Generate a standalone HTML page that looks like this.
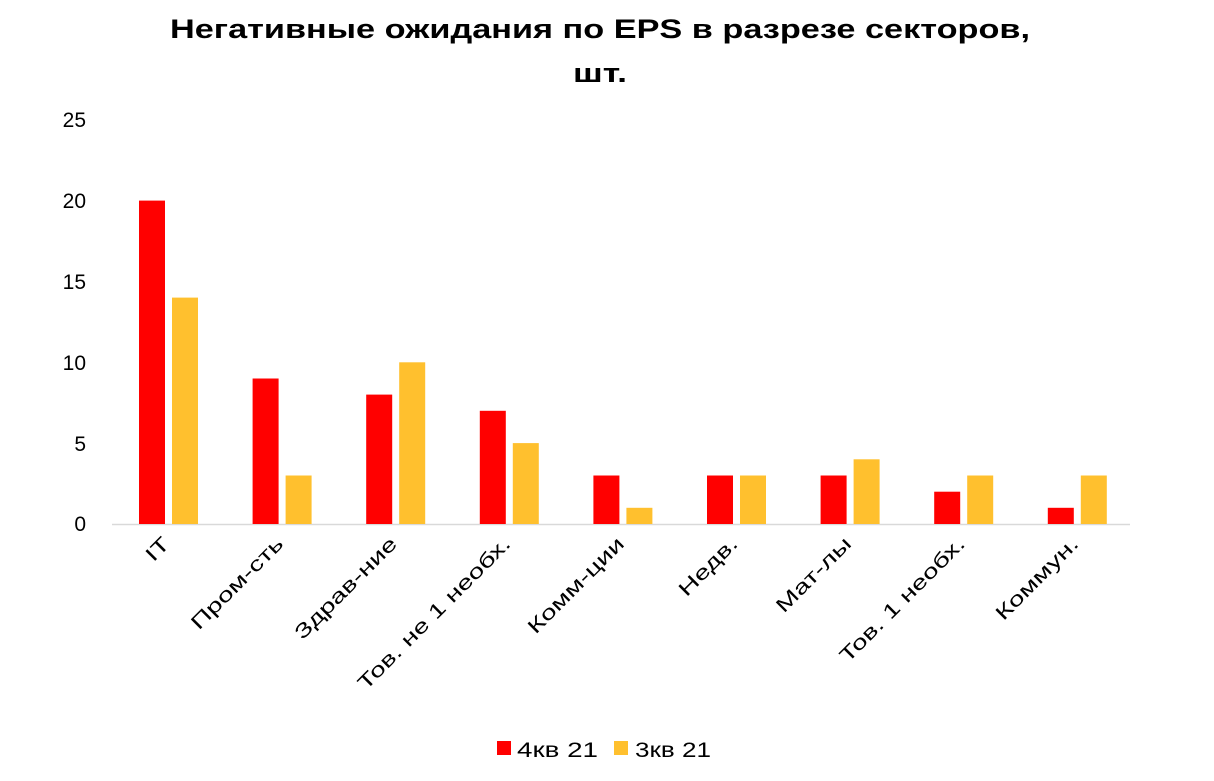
<!DOCTYPE html>
<html><head><meta charset="utf-8"><style>
body{margin:0;background:#fff;}
svg text{font-family:"Liberation Sans",sans-serif;fill:#000;}
</style></head><body>
<svg width="1214" height="776" xmlns="http://www.w3.org/2000/svg">
<text x="170" y="38" font-size="27" font-weight="bold" textLength="860" lengthAdjust="spacingAndGlyphs">Негативные ожидания по EPS в разрезе секторов,</text>
<text x="573" y="82" font-size="27" font-weight="bold" textLength="54" lengthAdjust="spacingAndGlyphs">шт.</text>
<g font-size="21" text-anchor="end">
<text x="86" y="531">0</text>
<text x="86" y="451">5</text>
<text x="86" y="370">10</text>
<text x="86" y="289">15</text>
<text x="86" y="208">20</text>
<text x="86" y="127">25</text>
</g>
<line x1="112" y1="524.5" x2="1130" y2="524.5" stroke="#d9d9d9" stroke-width="1.5"/>
<g fill="#ff0000">
<rect x="139" y="200.6" width="26" height="323.4"/>
<rect x="252.6" y="378.5" width="26" height="145.5"/>
<rect x="366.2" y="394.6" width="26" height="129.4"/>
<rect x="479.8" y="410.8" width="26" height="113.2"/>
<rect x="593.4" y="475.5" width="26" height="48.5"/>
<rect x="707" y="475.5" width="26" height="48.5"/>
<rect x="820.6" y="475.5" width="26" height="48.5"/>
<rect x="934.2" y="491.7" width="26" height="32.3"/>
<rect x="1047.8" y="507.8" width="26" height="16.2"/>
</g>
<g fill="#ffc02e">
<rect x="172" y="297.6" width="26" height="226.4"/>
<rect x="285.6" y="475.5" width="26" height="48.5"/>
<rect x="399.2" y="362.3" width="26" height="161.7"/>
<rect x="512.8" y="443.1" width="26" height="80.9"/>
<rect x="626.4" y="507.8" width="26" height="16.2"/>
<rect x="740" y="475.5" width="26" height="48.5"/>
<rect x="853.6" y="459.3" width="26" height="64.7"/>
<rect x="967.2" y="475.5" width="26" height="48.5"/>
<rect x="1080.8" y="475.5" width="26" height="48.5"/>
</g>
<g font-size="20" text-anchor="end">
<text transform="translate(171,545) rotate(-45) scale(1.4,1)">IT</text>
<text transform="translate(284.6,545) rotate(-45) scale(1.4,1)">Пром-сть</text>
<text transform="translate(398.2,545) rotate(-45) scale(1.4,1)">Здрав-ние</text>
<text transform="translate(511.8,545) rotate(-45) scale(1.4,1)">Тов. не 1 необх.</text>
<text transform="translate(625.4,545) rotate(-45) scale(1.4,1)">Комм-ции</text>
<text transform="translate(739,545) rotate(-45) scale(1.4,1)">Недв.</text>
<text transform="translate(852.6,545) rotate(-45) scale(1.4,1)">Мат-лы</text>
<text transform="translate(966.2,545) rotate(-45) scale(1.4,1)">Тов. 1 необх.</text>
<text transform="translate(1079.8,545) rotate(-45) scale(1.4,1)">Коммун.</text>
</g>
<rect x="497" y="741" width="14" height="14" fill="#ff0000"/>
<text x="517" y="757" font-size="21" textLength="81" lengthAdjust="spacingAndGlyphs">4кв 21</text>
<rect x="614" y="741" width="14" height="14" fill="#ffc02e"/>
<text x="635" y="757" font-size="21" textLength="76" lengthAdjust="spacingAndGlyphs">3кв 21</text>
</svg>
</body></html>
